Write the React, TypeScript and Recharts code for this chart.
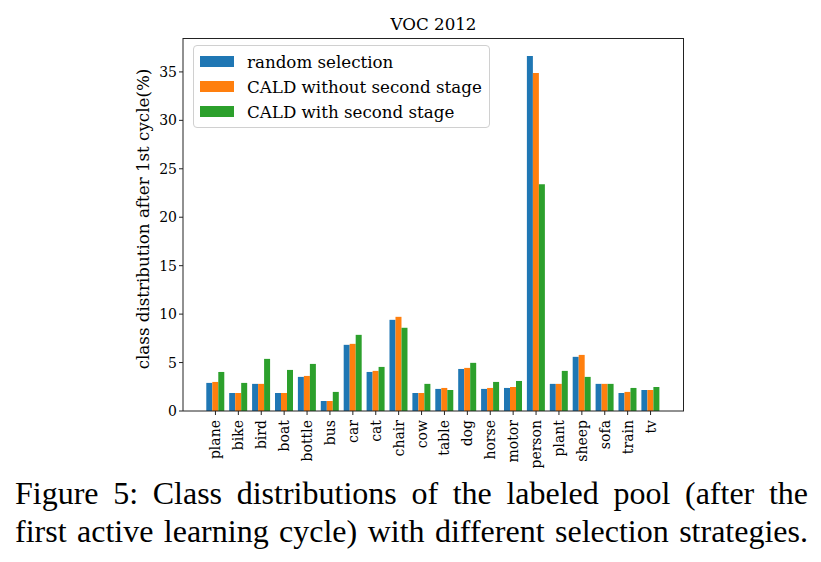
import React from "react";
import { BarChart, Bar, XAxis, YAxis } from "recharts";

const classes = [
  "plane", "bike", "bird", "boat", "bottle", "bus", "car", "cat", "chair", "cow",
  "table", "dog", "horse", "motor", "person", "plant", "sheep", "sofa", "train", "tv",
];
const randomSel = [2.9, 1.86, 2.8, 1.86, 3.52, 1.03, 6.83, 4.03, 9.41, 1.86, 2.28, 4.34, 2.28, 2.38, 36.65, 2.8, 5.59, 2.8, 1.86, 2.17];
const caldNoSecond = [3.0, 1.86, 2.8, 1.86, 3.62, 1.03, 6.93, 4.14, 9.72, 1.86, 2.38, 4.45, 2.38, 2.48, 34.9, 2.8, 5.79, 2.8, 1.97, 2.17];
const caldSecond = [4.03, 2.9, 5.38, 4.24, 4.86, 1.97, 7.86, 4.55, 8.59, 2.8, 2.17, 4.97, 3.0, 3.1, 23.4, 4.14, 3.52, 2.8, 2.38, 2.48];
const yTicks = [0, 5, 10, 15, 20, 25, 30, 35];
const seriesNames = ["random selection", "CALD without second stage", "CALD with second stage"];
const colors = ["#1f77b4", "#ff7f0e", "#2ca02c"];

const data = classes.map((c, i) => ({
  name: c,
  random: randomSel[i],
  noSecond: caldNoSecond[i],
  second: caldSecond[i],
}));

const FONT = "'DejaVu Serif', serif";
const AXIS = "#222";

// rotated category labels, reading bottom to top
function XTick(props: any) {
  const { x, y, payload } = props;
  return (
    <text
      x={x}
      y={y + 3}
      transform={`rotate(-90, ${x}, ${y + 3})`}
      textAnchor="end"
      dominantBaseline="central"
      fontFamily={FONT}
      fontSize={14}
      fill="#000"
    >
      {payload.value}
    </text>
  );
}

function LegendBox() {
  return (
    <div
      style={{
        position: "absolute",
        left: 193,
        top: 45,
        boxSizing: "border-box",
        border: "1px solid #d0d0d0",
        borderRadius: 4,
        background: "rgba(255,255,255,0.8)",
        padding: "3px 6px 3px 6px",
        fontFamily: FONT,
        fontSize: 16.7,
        width: 297,
        whiteSpace: "nowrap",
      }}
    >
      {seriesNames.map((n, i) => (
        <div key={n} style={{ display: "flex", alignItems: "center", height: 25 }}>
          <span style={{ display: "inline-block", width: 34, height: 11, background: colors[i], marginRight: 13 }} />
          <span>{n}</span>
        </div>
      ))}
    </div>
  );
}

export default function App() {
  return (
    <div style={{ position: "absolute", left: 0, top: 0, width: 821, height: 562, background: "#fff" }}>
      <div
        style={{
          position: "absolute",
          left: 0,
          top: 14,
          width: 867,
          textAlign: "center",
          fontFamily: FONT,
          fontSize: 16.7,
        }}
      >
        VOC 2012
      </div>
      <div
        style={{
          position: "absolute",
          left: 143,
          top: 219,
          transform: "translate(-50%, -50%) rotate(-90deg)",
          whiteSpace: "nowrap",
          fontFamily: FONT,
          fontSize: 16.7,
        }}
      >
        class distribution after 1st cycle(%)
      </div>
      <BarChart
        width={821}
        height={470}
        data={data}
        margin={{ top: 38, right: 137, left: 0, bottom: 0 }}
        barCategoryGap="10%"
        barGap={0}
      >
        <XAxis
          dataKey="name"
          height={59}
          padding={{ left: 21, right: 22 }}
          interval={0}
          stroke={AXIS}
          tickLine={{ stroke: AXIS }}
          tickSize={4}
          tick={<XTick />}
        />
        <YAxis
          width={183}
          domain={[0, 38.5]}
          ticks={yTicks}
          allowDataOverflow
          stroke={AXIS}
          tickSize={4}
          tick={{ fontFamily: FONT, fontSize: 14, fill: "#000" }}
        />
        <Bar dataKey="random" name={seriesNames[0]} fill={colors[0]} isAnimationActive={false} />
        <Bar dataKey="noSecond" name={seriesNames[1]} fill={colors[1]} isAnimationActive={false} />
        <Bar dataKey="second" name={seriesNames[2]} fill={colors[2]} isAnimationActive={false} />
      </BarChart>
      {/* top and right spines of the axes box */}
      <div
        style={{
          position: "absolute",
          left: 183,
          top: 38,
          width: 501,
          height: 373,
          boxSizing: "border-box",
          borderTop: `1px solid ${AXIS}`,
          borderRight: `1px solid ${AXIS}`,
          pointerEvents: "none",
        }}
      />
      <LegendBox />
      <div
        style={{
          position: "absolute",
          left: 15,
          top: 474,
          width: 793,
          fontFamily: "'Liberation Serif', 'Times New Roman', serif",
          fontSize: 32,
          lineHeight: "38px",
          color: "#000",
        }}
      >
        <div style={{ whiteSpace: "nowrap", textAlign: "justify", textAlignLast: "justify" }}>
          Figure 5: Class distributions of the labeled pool (after the
        </div>
        <div style={{ whiteSpace: "nowrap", textAlign: "justify", textAlignLast: "justify" }}>
          first active learning cycle) with different selection strategies.
        </div>
      </div>
    </div>
  );
}
